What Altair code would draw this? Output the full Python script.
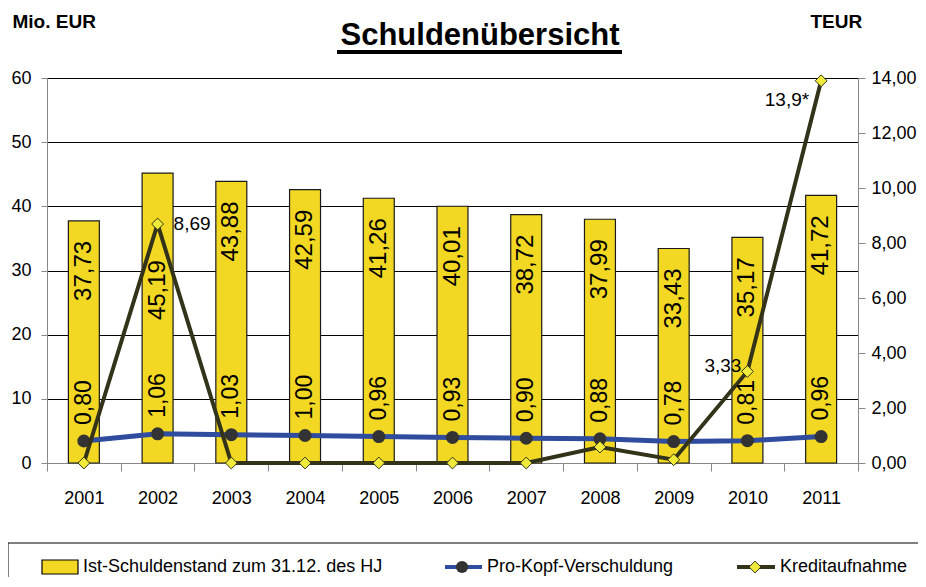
import altair as alt
import pandas as pd

FONT = "Liberation Sans"

years = ["2001", "2002", "2003", "2004", "2005", "2006", "2007", "2008", "2009", "2010", "2011"]
schulden = [37.73, 45.19, 43.88, 42.59, 41.26, 40.01, 38.72, 37.99, 33.43, 35.17, 41.72]
pro_kopf = [0.80, 1.06, 1.03, 1.00, 0.96, 0.93, 0.90, 0.88, 0.78, 0.81, 0.96]
kredit = [0.0, 8.69, 0.0, 0.0, 0.0, 0.0, 0.0, 0.58, 0.12, 3.33, 13.9]
kredit_labels = ["", "8,69", "", "", "", "", "", "", "", "3,33", "13,9*"]
left_ticks = [0, 10, 20, 30, 40, 50, 60]
right_ticks = [0, 2, 4, 6, 8, 10, 12, 14]
legend_labels = ["Ist-Schuldenstand zum 31.12. des HJ", "Pro-Kopf-Verschuldung", "Kreditaufnahme"]


def de(v):
    return f"{v:.2f}".replace(".", ",")


df = pd.DataFrame({
    "Jahr": years,
    "Schulden": schulden,
    "ProKopf": pro_kopf,
    "Kredit": kredit,
    "SchuldenLabel": [de(v) for v in schulden],
    "ProKopfLabel": [de(v) for v in pro_kopf],
    "KreditLabel": kredit_labels,
})

YELLOW = "#F3D823"
BLUE = "#2F4C9E"
OLIVE = "#33331A"
DOT = "#333333"
DIAMOND = "#F0EA3A"

x_enc = alt.X(
    "Jahr:N",
    scale=alt.Scale(paddingInner=0, paddingOuter=0),
    axis=alt.Axis(title=None, labelAngle=0, tickBand="extent", tickSize=8,
                  labelPadding=18, labelFontSize=18, grid=False),
)

left_axis = alt.Axis(
    title="Mio. EUR", titleAngle=0, titleX=-35, titleY=-51, titleAlign="left",
    titleBaseline="alphabetic", titleFontSize=19, titleFontWeight="bold",
    values=left_ticks, grid=True, gridColor="black", gridWidth=1,
    tickSize=6, labelPadding=10, labelFontSize=18,
)
right_axis = alt.Axis(
    orient="right", title="TEUR", titleAngle=0, titleX=-48, titleY=-51,
    titleAlign="left", titleBaseline="alphabetic", titleFontSize=19,
    titleFontWeight="bold", values=right_ticks, grid=False,
    labelExpr="replace(format(datum.value, '.2f'), '.', ',')",
    tickSize=7, labelPadding=6, labelFontSize=18,
)
left_scale = alt.Scale(domain=[0, 60], nice=False)
right_scale = alt.Scale(domain=[0, 14], nice=False)

base = alt.Chart(df)
y_left = alt.Y("Schulden:Q", scale=left_scale, axis=left_axis)

bars = base.mark_bar(width=alt.RelativeBandSize(0.42), color=YELLOW,
                     stroke="#1a1a1a", strokeWidth=1.2).encode(x=x_enc, y=y_left)
bar_text = base.transform_filter(alt.datum.Jahr != "2002").mark_text(
    angle=270, align="right", baseline="middle", dx=-20, fontSize=24, color="black"
).encode(x=x_enc, y=y_left, text="SchuldenLabel:N")
bar_text_2002 = base.transform_filter(alt.datum.Jahr == "2002").mark_text(
    angle=270, align="right", baseline="middle", dx=-87, fontSize=24, color="black"
).encode(x=x_enc, y=y_left, text="SchuldenLabel:N")
left_layer = alt.layer(bars, bar_text, bar_text_2002)

y_pk = alt.Y("ProKopf:Q", scale=right_scale, axis=right_axis)
y_kr = alt.Y("Kredit:Q", scale=right_scale, axis=right_axis)

pk_line = base.mark_line(color=BLUE, strokeWidth=5).encode(x=x_enc, y=y_pk)
pk_pts = base.mark_point(shape="circle", filled=True, size=170, color=DOT,
                         opacity=1).encode(x=x_enc, y=y_pk)
pk_text = base.mark_text(angle=270, align="left", baseline="middle", dx=16,
                         fontSize=23, color="black").encode(
    x=x_enc, y=y_pk, text="ProKopfLabel:N")
kr_line = base.mark_line(color=OLIVE, strokeWidth=4).encode(x=x_enc, y=y_kr)
kr_pts = base.mark_point(shape="diamond", filled=True, size=140, fill=DIAMOND,
                         stroke=OLIVE, strokeWidth=1, opacity=1).encode(x=x_enc, y=y_kr)


def kr_label(year, align, dx, dy):
    return base.transform_filter(alt.datum.Jahr == year).mark_text(
        align=align, baseline="middle", dx=dx, dy=dy, fontSize=19, color="black"
    ).encode(x=x_enc, y=y_kr, text="KreditLabel:N")


kr_t1 = kr_label("2002", "left", 16, 0)
kr_t2 = kr_label("2010", "right", -6, -5)
kr_t3 = kr_label("2011", "right", -12, 19)

right_layer = alt.layer(pk_line, pk_pts, kr_line, kr_pts, pk_text, kr_t1, kr_t2, kr_t3)

one = pd.DataFrame({"t": ["Schuldenübersicht"]})
title_text = alt.Chart(one).mark_text(fontSize=31, fontWeight="bold", align="center",
                                      baseline="alphabetic", color="black").encode(
    text="t:N", x=alt.value(433), y=alt.value(-33))
title_line = alt.Chart(one).mark_rule(color="black", strokeWidth=4).encode(
    x=alt.value(290), x2=alt.value(575), y=alt.value(-26))

leg_df = pd.DataFrame({"t": [""]})
leg_box = alt.Chart(leg_df).mark_rect(fill="white", stroke="black", strokeWidth=1).encode(
    x=alt.value(-39), x2=alt.value(900), y=alt.value(465), y2=alt.value(560))
leg_sw = alt.Chart(leg_df).mark_rect(fill=YELLOW, stroke="black", strokeWidth=1.2).encode(
    x=alt.value(-5), x2=alt.value(31), y=alt.value(482), y2=alt.value(496))
leg_l1 = alt.Chart(leg_df).mark_rule(color=BLUE, strokeWidth=4).encode(
    x=alt.value(398), x2=alt.value(435), y=alt.value(489))
leg_p1 = alt.Chart(leg_df).mark_point(shape="circle", filled=True, size=150, color=DOT,
                                      opacity=1).encode(x=alt.value(415), y=alt.value(489))
leg_l2 = alt.Chart(leg_df).mark_rule(color=OLIVE, strokeWidth=4).encode(
    x=alt.value(690), x2=alt.value(728), y=alt.value(489))
leg_p2 = alt.Chart(leg_df).mark_point(shape="diamond", filled=True, size=140, fill=DIAMOND,
                                      stroke=OLIVE, strokeWidth=1, opacity=1).encode(
    x=alt.value(708), y=alt.value(489))

leg_text_df = pd.DataFrame({"label": legend_labels, "pos": [0, 1, 2]})
leg_texts = []
for i, xpos in zip(range(3), [36, 440, 733]):
    leg_texts.append(
        alt.Chart(leg_text_df).transform_filter(alt.datum.pos == i).mark_text(
            align="left", baseline="middle", fontSize=18, color="black"
        ).encode(text="label:N", x=alt.value(xpos), y=alt.value(489))
    )

chart = alt.layer(
    left_layer, right_layer, title_text, title_line,
    leg_box, leg_sw, leg_l1, leg_p1, leg_l2, leg_p2, *leg_texts
).resolve_scale(y="independent").properties(
    width=811, height=385,
    autosize=alt.AutoSizeParams(type="none"),
    padding={"left": 39, "top": 70, "right": 60, "bottom": 114},
).configure_view(fill="#C0C0C0", stroke=None).configure_axis(
    labelFont=FONT, titleFont=FONT, labelColor="black", titleColor="black",
    domainColor="black", tickColor="black",
).configure_text(font=FONT).configure(background="white")

chart.save("out.html", embed_options={"renderer": "svg", "actions": False})
